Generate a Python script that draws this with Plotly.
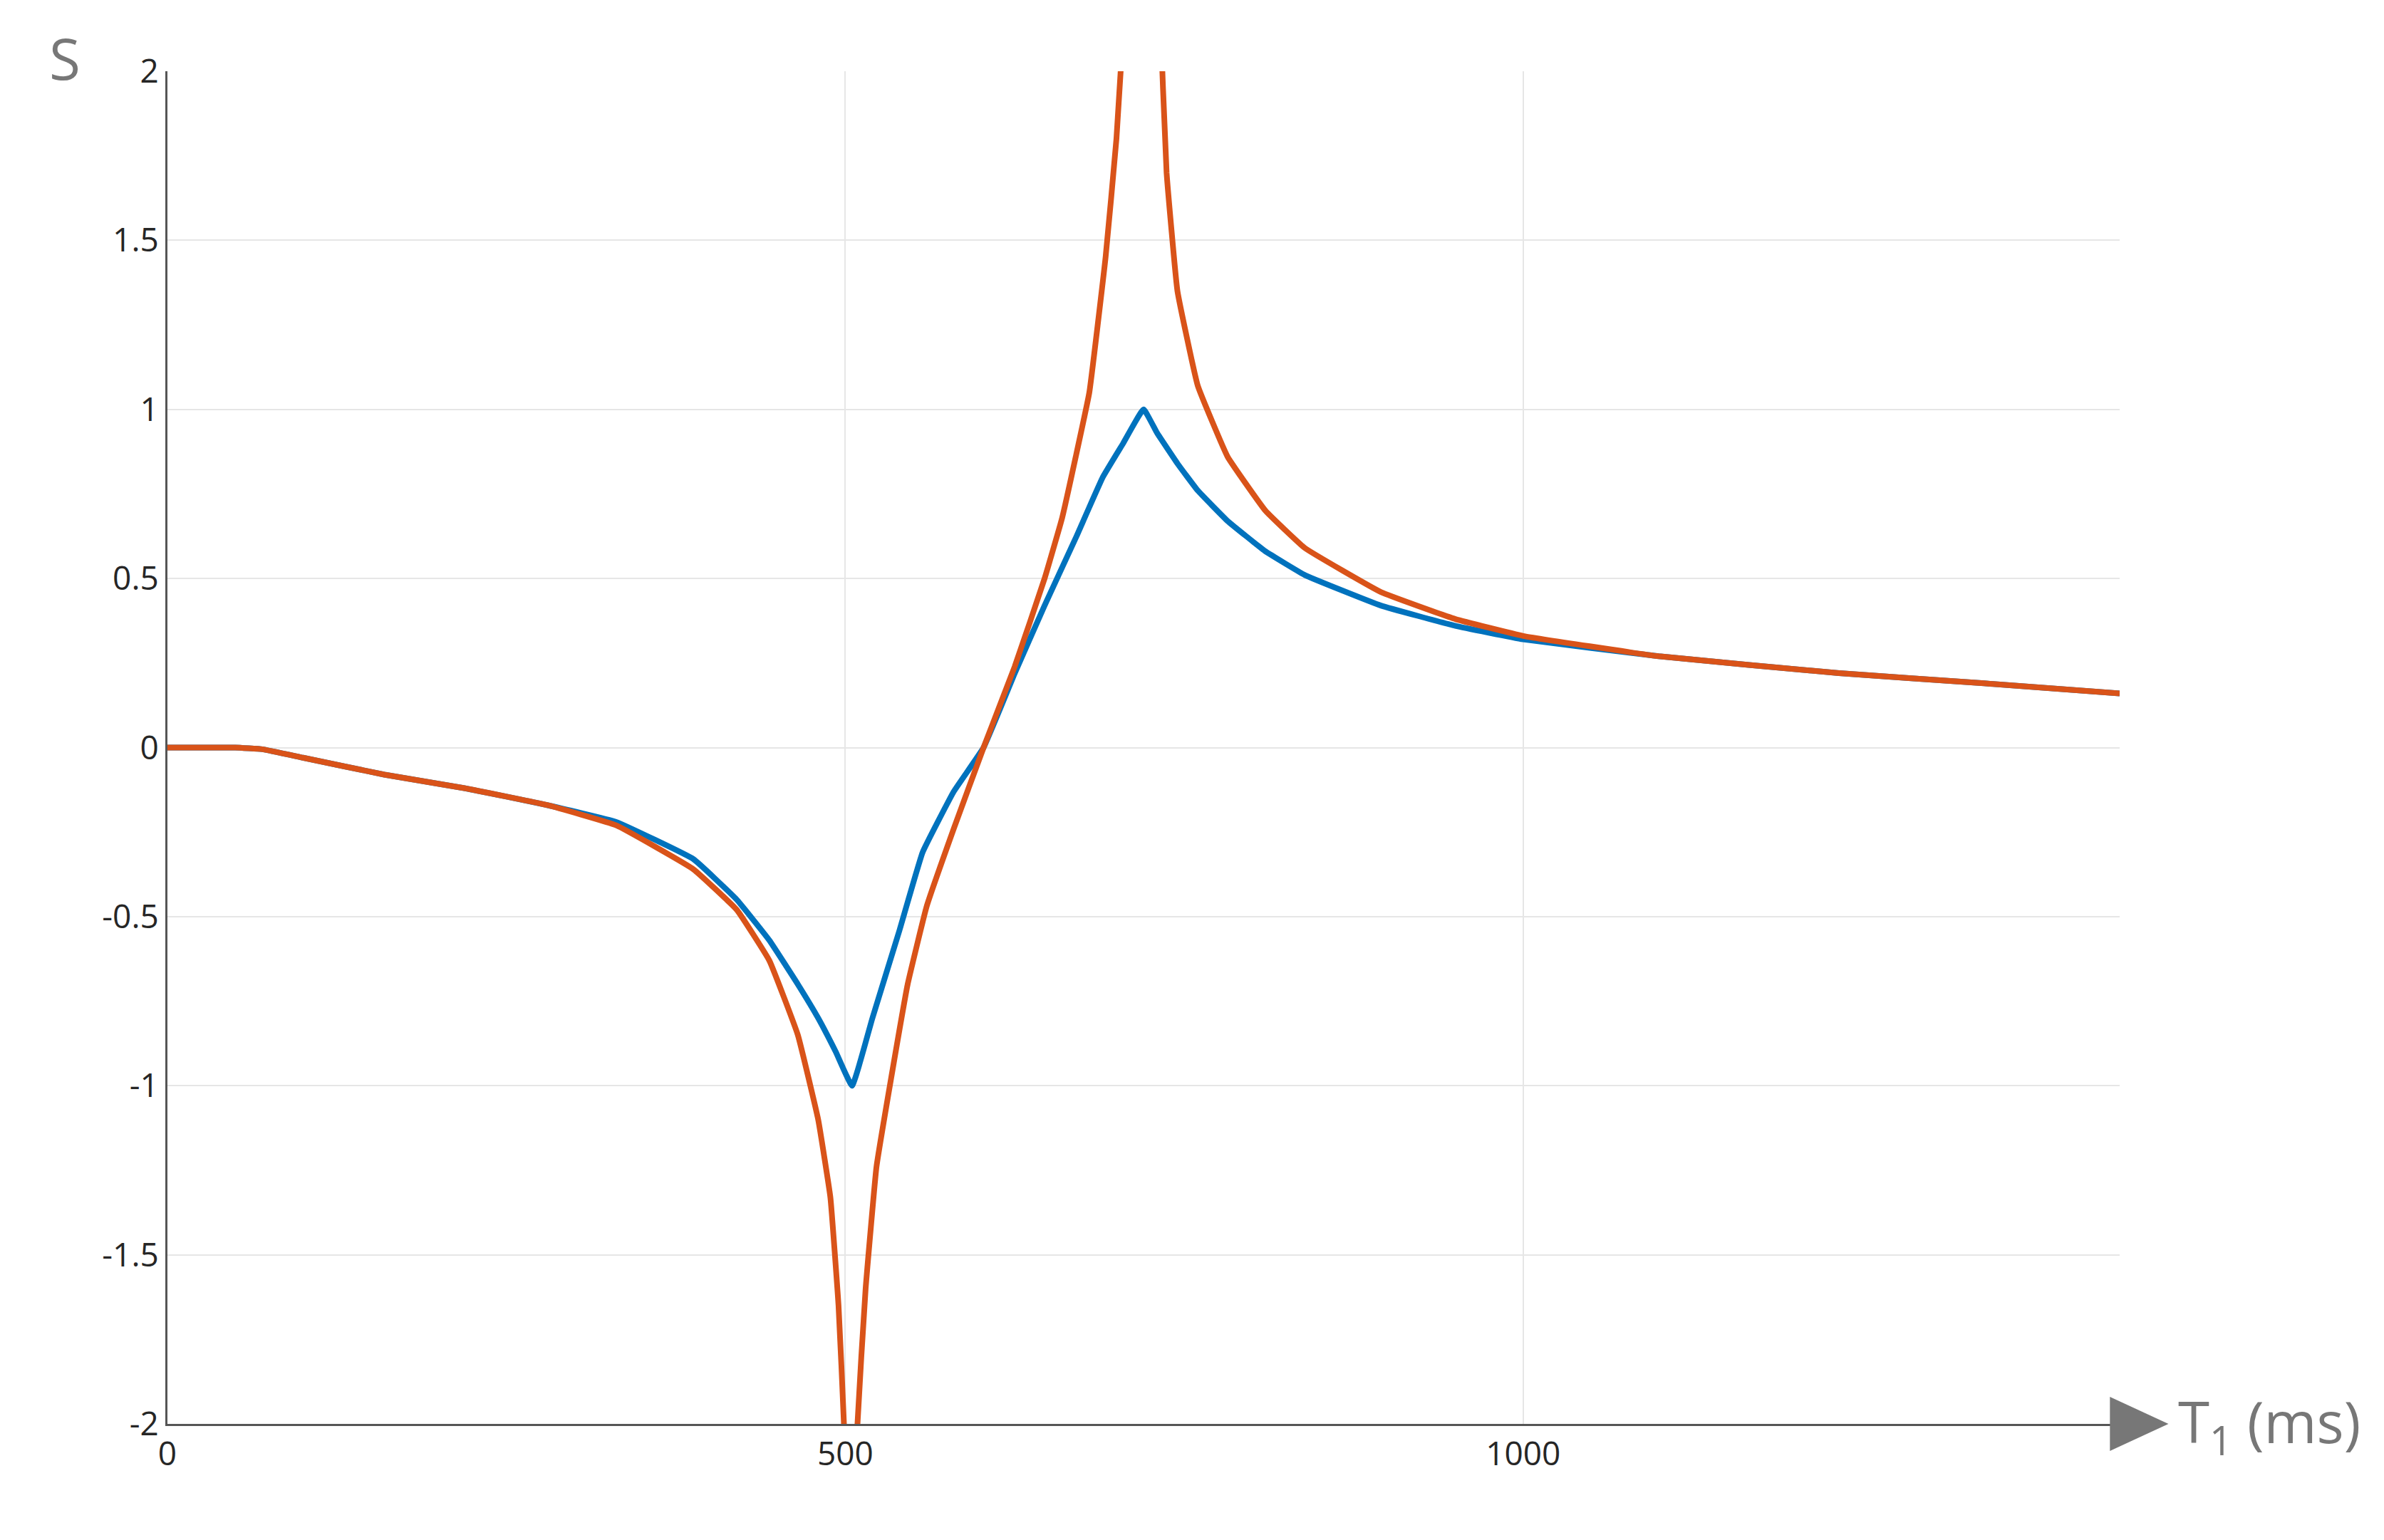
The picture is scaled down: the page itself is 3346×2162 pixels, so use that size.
import plotly.graph_objects as go

# values
blue_x = [0, 50, 70, 100, 160, 219, 280, 331, 388, 420, 444, 465, 480, 493, 505, 520, 540, 557, 580, 602, 625, 647, 670, 690, 705, 720,
          730, 745, 760, 782, 810, 839, 895, 950, 1000, 1100, 1233, 1340, 1440]
blue_y = [0, 0, -0.005, -0.03, -0.08, -0.12, -0.17, -0.22, -0.33, -0.45, -0.57, -0.7, -0.8, -0.9, -1.0, -0.8, -0.54, -0.31, -0.13, 0.0, 0.22, 0.42, 0.62, 0.8, 0.9, 1.0,
          0.93, 0.84, 0.76, 0.67, 0.58, 0.51, 0.42, 0.36, 0.32, 0.27, 0.22, 0.19, 0.16]

orange_x = [0, 50, 70, 100, 160, 219, 280, 331, 388, 420, 444, 465, 480, 489, 495, 499, 503, 505, 507, 509, 515, 523, 535, 546, 560,
            580, 602, 625, 647, 660, 670, 680, 692, 700, 706, 712, 720, 728, 732, 737, 745, 760, 782, 810, 839, 895, 950, 1000, 1100,
            1233, 1340, 1440]
orange_y = [0, 0, -0.005, -0.03, -0.08, -0.12, -0.17, -0.23, -0.36, -0.48, -0.63, -0.85, -1.1, -1.33, -1.65, -2.0, -2.8, -3.5, -2.8, -2.0,
            -1.6, -1.24, -0.95, -0.7, -0.47, -0.24, 0.0, 0.24, 0.5, 0.68, 0.86, 1.05, 1.45, 1.8, 2.2, 3.0, 3.5, 3.0, 2.2, 1.7, 1.35,
            1.07, 0.86, 0.7, 0.59, 0.46, 0.38, 0.33, 0.27, 0.22, 0.19, 0.16]

x_ticks = [0, 500, 1000]
y_ticks = [-2, -1.5, -1, -0.5, 0, 0.5, 1, 1.5, 2]

fig = go.Figure()
fig.add_trace(go.Scatter(x=blue_x, y=blue_y, mode="lines", line=dict(color="#0072BD", width=8, shape="spline", smoothing=0.3)))
fig.add_trace(go.Scatter(x=orange_x, y=orange_y, mode="lines", line=dict(color="#D95319", width=8, shape="spline", smoothing=0.3)))

fig.update_layout(
    width=3346, height=2162, showlegend=False,
    plot_bgcolor="white", paper_bgcolor="white",
    margin=dict(l=227, r=379, t=92, b=171),
    font=dict(family="Open Sans", size=46, color="#262626"),
    xaxis=dict(range=[0, 1440], tickvals=x_ticks, showgrid=True, gridcolor="#e6e6e6", gridwidth=2,
               showline=True, linecolor="#555", linewidth=3, zeroline=False, ticks="", ticklen=0),
    yaxis=dict(range=[-2, 2], tickvals=y_ticks, ticktext=[str(v) for v in y_ticks], showgrid=True,
               gridcolor="#e6e6e6", gridwidth=2, showline=True, linecolor="#555", linewidth=3,
               zeroline=False, ticks="", ticklen=0),
)
# arrow head at end of x axis
fig.add_shape(type="path", xref="paper", yref="paper",
              path="M 0.995 -0.02 L 1.025 0 L 0.995 0.02 Z", fillcolor="#777", line=dict(width=0))
fig.add_annotation(x=1.0, y=0, xref="paper", yref="paper", text="T<sub>1</sub> (ms)", showarrow=False,
                   xanchor="left", yanchor="middle", xshift=80, font=dict(size=80, color="#777"))
fig.add_annotation(x=0, y=1, xref="paper", yref="paper", text="S", showarrow=False,
                   xanchor="right", yanchor="middle", xshift=-120, yshift=20, font=dict(size=80, color="#777"))
fig.write_html("out.html")
